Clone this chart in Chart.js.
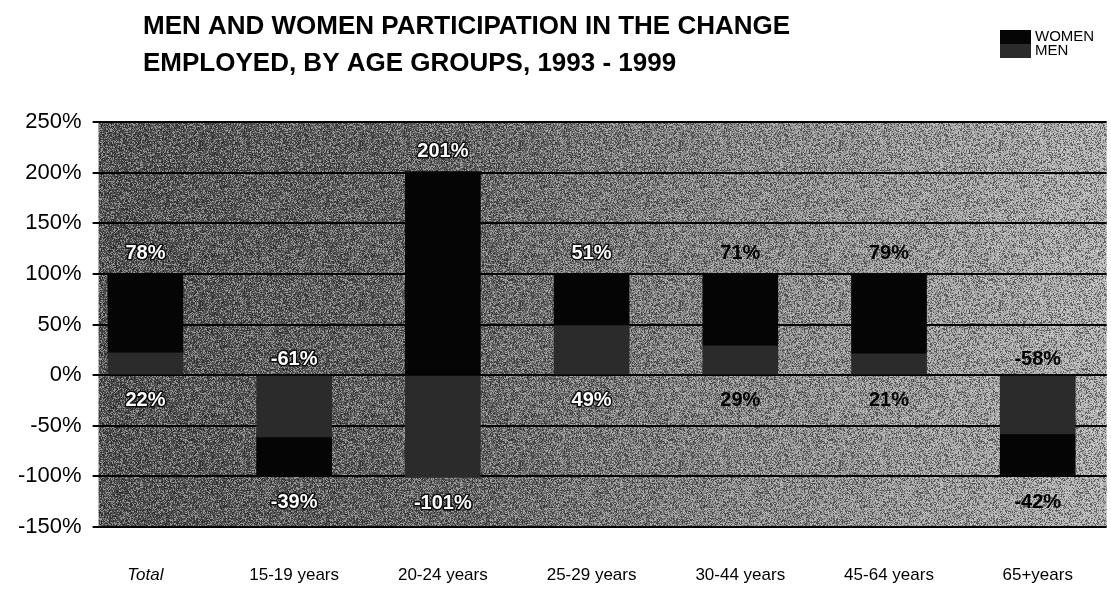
<!DOCTYPE html>
<html>
<head>
<meta charset="utf-8">
<script src="https://cdn.jsdelivr.net/npm/chart.js@4/dist/chart.umd.min.js"></script>
<style>
  html, body { margin: 0; padding: 0; background: #ffffff; }
  #wrap { width: 1111px; height: 600px; position: relative; }
</style>
</head>
<body>
<div id="wrap"><canvas id="chart" width="1111" height="600"></canvas></div>
<script>
// Age groups along the bottom axis
const categories = ['Total', '15-19 years', '20-24 years', '25-29 years', '30-44 years', '45-64 years', '65+years'];
// Share of the change in employed persons, 1993-1999 (%)
const menShare   = [22, -61, -101, 49, 29, 21, -58];
const womenShare = [78, -39,  201, 51, 71, 79, -42];
// Value axis ticks
const yTicks = [250, 200, 150, 100, 50, 0, -50, -100, -150];

const titleLines = ['MEN AND WOMEN PARTICIPATION IN THE CHANGE', 'EMPLOYED, BY AGE GROUPS, 1993 - 1999'];

const FONT = '"Liberation Sans", Arial, Helvetica, sans-serif';
const TITLE_FONT = 'bold 26px ' + FONT;
const CAT_SIZE = 17;

const WOMEN_COLOR = '#050505';
const MEN_COLOR = '#2b2b2b';
// label ink per age group: light text on the dark left half, dark text on the right
const LABEL_INK = ['#ffffff', '#ffffff', '#ffffff', '#ffffff', '#000000', '#000000', '#000000'];

// grainy grey backdrop of the plotting area
function makeGrain() {
  const c = document.createElement('canvas');
  c.width = 160; c.height = 160;
  const g = c.getContext('2d');
  const img = g.createImageData(160, 160);
  for (let y = 0; y < 160; y++) {
    for (let x = 0; x < 160; x++) {
      let h = Math.imul(x + 17, 374761393) ^ Math.imul(y + 91, 668265263);
      h = Math.imul(h ^ (h >>> 13), 1274126177);
      h = (h ^ (h >>> 16)) >>> 0;
      const v = h & 255;
      const k = (y * 160 + x) * 4;
      if (v < 70) { img.data[k] = 0; img.data[k+1] = 0; img.data[k+2] = 0; img.data[k+3] = 110; }
      else if (v > 190) { img.data[k] = 255; img.data[k+1] = 255; img.data[k+2] = 255; img.data[k+3] = 95; }
      else { img.data[k+3] = 0; }
    }
  }
  g.putImageData(img, 0, 0);
  return c;
}
const grain = makeGrain();

const backdrop = {
  id: 'backdrop',
  beforeDraw(chart) {
    const { ctx, chartArea: a } = chart;
    ctx.save();
    const grad = ctx.createLinearGradient(a.left, 0, a.right, 0);
    grad.addColorStop(0, '#505050');
    grad.addColorStop(0.35, '#626262');
    grad.addColorStop(0.6, '#838383');
    grad.addColorStop(1, '#adadad');
    ctx.fillStyle = grad;
    ctx.fillRect(a.left, a.top, a.right - a.left, a.bottom - a.top);
    ctx.fillStyle = ctx.createPattern(grain, 'repeat');
    ctx.fillRect(a.left, a.top, a.right - a.left, a.bottom - a.top);
    ctx.restore();
  }
};

const headings = {
  id: 'headings',
  afterDraw(chart) {
    const { ctx } = chart;
    ctx.save();
    ctx.fillStyle = '#000000';
    ctx.textBaseline = 'middle';
    ctx.textAlign = 'left';
    ctx.font = TITLE_FONT;
    ctx.fillText(titleLines[0], 143, 27);
    ctx.fillText(titleLines[1], 143, 64);
    // legend
    const ds = chart.data.datasets;
    const order = [1, 0];
    ctx.font = '15px ' + FONT;
    order.forEach((di, r) => {
      const y0 = 30 + r * 14;
      ctx.fillStyle = ds[di].backgroundColor;
      ctx.fillRect(1000, y0, 31, 14);
      ctx.fillStyle = '#000000';
      ctx.fillText(ds[di].label, 1035, y0 + 7);
    });
    ctx.restore();
  }
};

const shareLabels = {
  id: 'shareLabels',
  afterDatasetsDraw(chart) {
    const { ctx } = chart;
    const xs = chart.scales.x, ys = chart.scales.y;
    const series = [menShare, womenShare];
    ctx.save();
    ctx.font = 'bold 20px ' + FONT;
    ctx.textAlign = 'center';
    ctx.textBaseline = 'middle';
    ctx.lineJoin = 'round';
    categories.forEach((cat, i) => {
      let pos = 0, neg = 0;
      series.forEach(s => { if (s[i] > 0) pos += s[i]; else neg += s[i]; });
      const x = xs.getPixelForValue(i);
      series.forEach((s, si) => {
        const v = s[i];
        const outer = !series.slice(si + 1).some(o => Math.sign(o[i]) === Math.sign(v));
        let y;
        if (outer) y = v > 0 ? ys.getPixelForValue(pos) - 20 : ys.getPixelForValue(neg) + 26;
        else y = v > 0 ? ys.getPixelForValue(0) + 25 : ys.getPixelForValue(0) - 16;
        const txt = v + '%';
        if (LABEL_INK[i] === '#ffffff') {
          ctx.strokeStyle = 'rgba(0,0,0,0.85)';
          ctx.lineWidth = 3;
          ctx.strokeText(txt, x, y);
        }
        ctx.fillStyle = LABEL_INK[i];
        ctx.fillText(txt, x, y);
      });
    });
    ctx.restore();
  }
};

const toPoints = arr => arr.map((v, i) => ({ x: i, y: v }));

new Chart(document.getElementById('chart'), {
  type: 'bar',
  data: {
    datasets: [
      { label: 'MEN', data: toPoints(menShare), backgroundColor: MEN_COLOR, barThickness: 75, stack: 'all' },
      { label: 'WOMEN', data: toPoints(womenShare), backgroundColor: WOMEN_COLOR, barThickness: 75, stack: 'all' }
    ]
  },
  options: {
    responsive: false,
    animation: false,
    devicePixelRatio: 1,
    layout: { padding: { top: 122, right: 1, left: 7, bottom: 0 } },
    plugins: { legend: { display: false }, title: { display: false }, tooltip: { enabled: false } },
    scales: {
      x: {
        type: 'linear',
        stacked: true,
        offset: false,
        min: -0.3148,
        max: 6.4635,
        afterBuildTicks: axis => { axis.ticks = categories.map((c, i) => ({ value: i })); },
        afterFit: axis => { axis.height = 73; },
        grid: { display: false, drawTicks: false, offset: false },
        border: { display: false },
        ticks: {
          autoSkip: false,
          maxRotation: 0,
          minRotation: 0,
          padding: 38,
          color: '#000000',
          font: ctx => ({ family: FONT, size: CAT_SIZE, style: (ctx.tick && ctx.tick.value === 0) ? 'italic' : 'normal' }),
          callback: v => categories[v]
        }
      },
      y: {
        stacked: true,
        min: -150,
        max: 250,
        afterBuildTicks: axis => { axis.ticks = yTicks.map(v => ({ value: v })); },
        grid: { color: '#000000', lineWidth: 2, drawTicks: true, tickLength: 6, tickColor: '#000000' },
        border: { display: false },
        ticks: {
          padding: 11,
          color: '#000000',
          font: { family: FONT, size: 22 },
          callback: v => v + '%'
        }
      }
    }
  },
  plugins: [backdrop, headings, shareLabels]
});
</script>
</body>
</html>
